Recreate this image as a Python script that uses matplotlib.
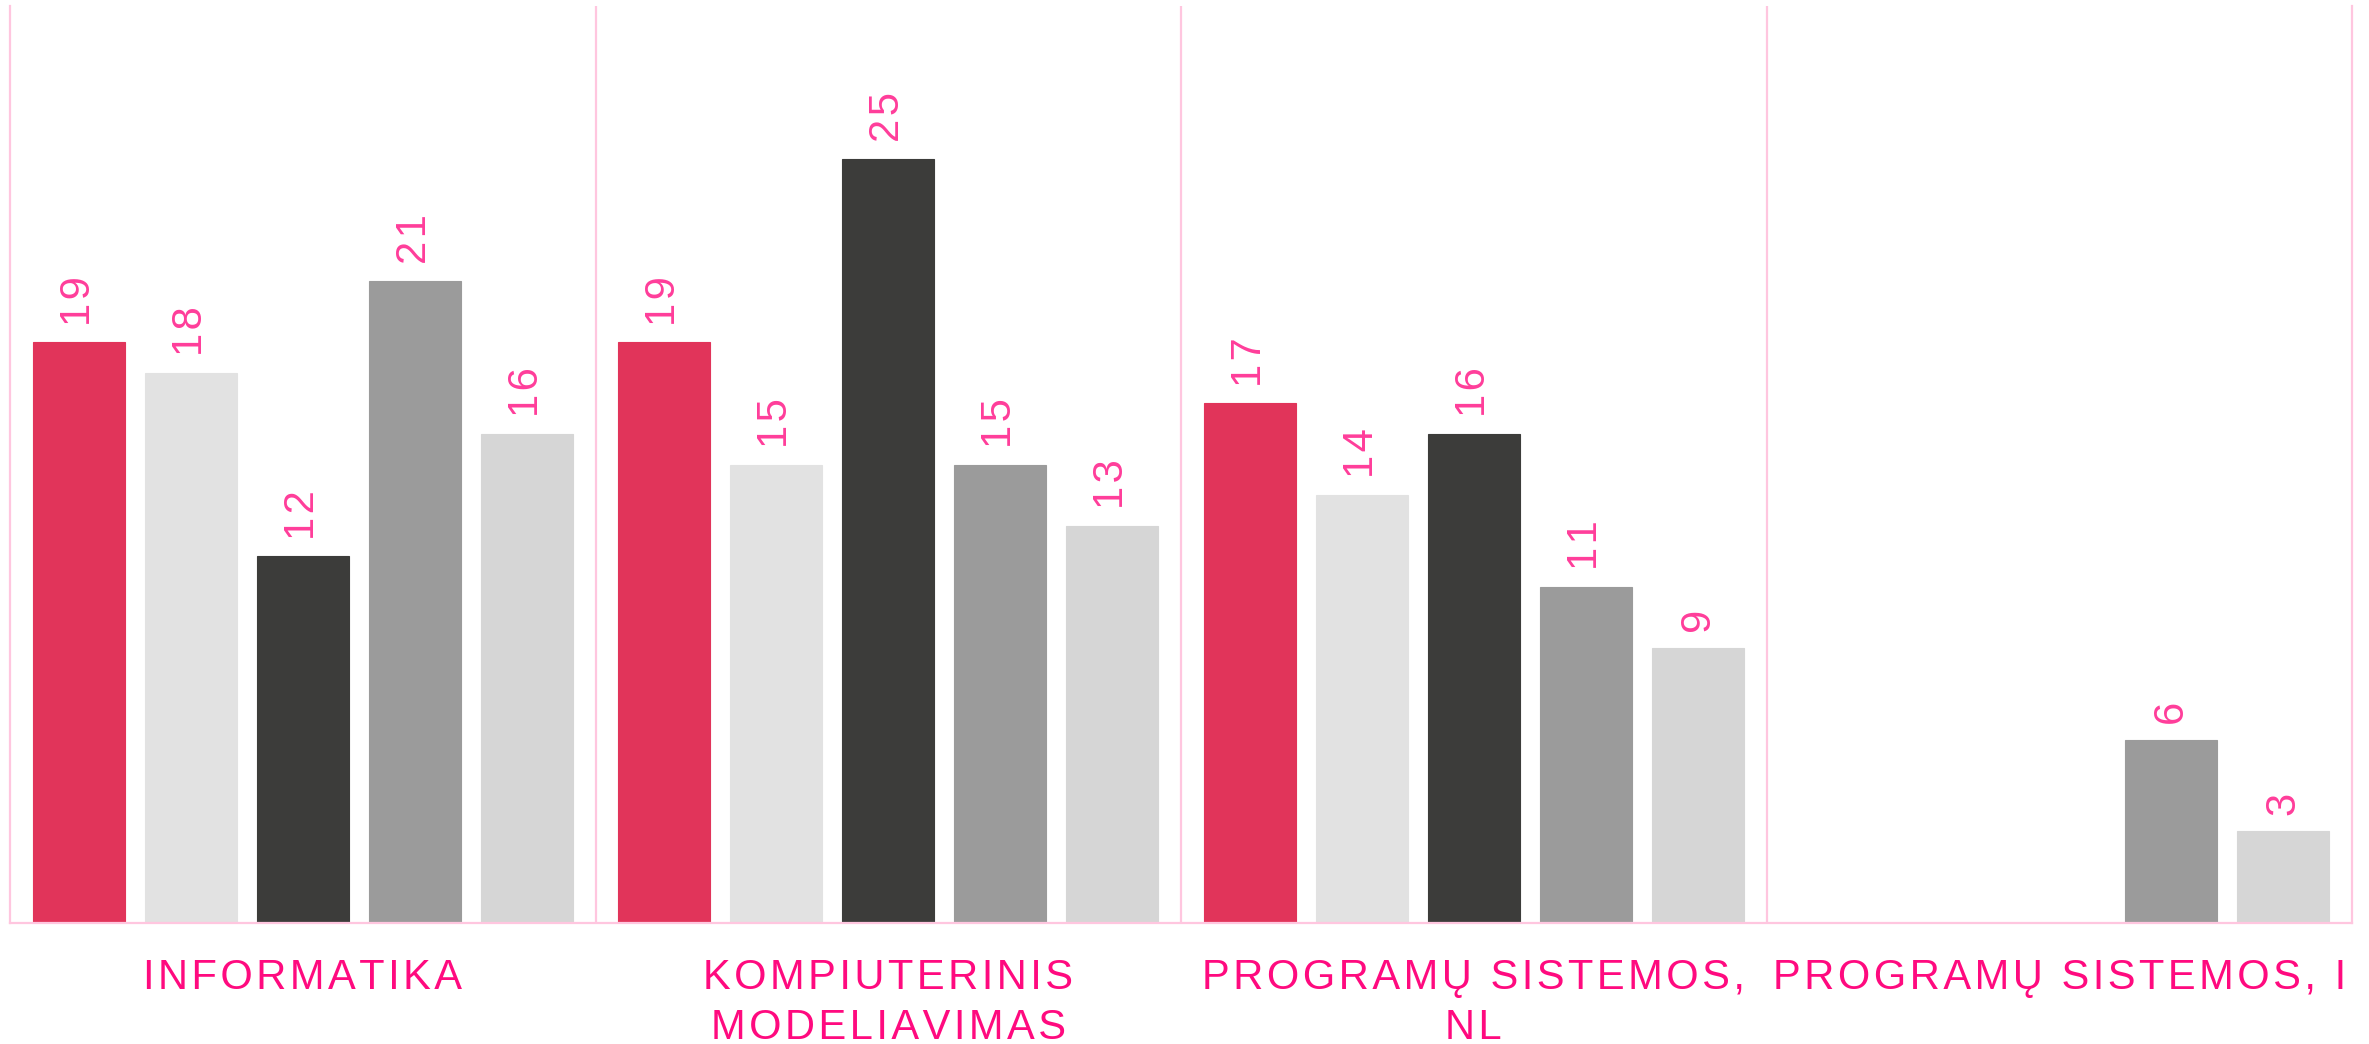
"""Grouped bar chart: students per study programme, five series per group."""

import matplotlib

matplotlib.use("Agg")
import matplotlib.pyplot as plt
import numpy as np

plt.rcParams["font.family"] = ["Liberation Sans", "DejaVu Sans"]

CATEGORIES = [
    "INFORMATIKA",
    "KOMPIUTERINIS\nMODELIAVIMAS",
    "PROGRAMŲ SISTEMOS,\nNL",
    "PROGRAMŲ SISTEMOS, I",
]
SERIES_1 = [19, 19, 17, np.nan]
SERIES_2 = [18, 15, 14, np.nan]
SERIES_3 = [12, 25, 16, np.nan]
SERIES_4 = [21, 15, 11, 6]
SERIES_5 = [16, 13, 9, 3]

SERIES = [SERIES_1, SERIES_2, SERIES_3, SERIES_4, SERIES_5]
COLORS = ["#e1345a", "#e2e2e2", "#3c3c3a", "#9b9b9b", "#d6d6d6"]
LINE_PINK = "#ffc6df"
LABEL_PINK = "#ff3d9a"
CAT_PINK = "#ff0a7f"

W, H, DPI = 2369, 1044, 100
HAIR = "\u200a"


def spaced(text):
    # fake letter spacing with hair spaces between characters
    return "\n".join(HAIR.join(line) for line in text.split("\n"))


fig = plt.figure(figsize=(W / DPI, H / DPI), dpi=DPI)
ax = fig.add_axes([10 / W, 1 - 923 / H, (2352 - 10) / W, (923 - 6) / H])

n_groups = len(CATEGORIES)
pitch = 0.1912
bar_w = 0.1576
offsets = 0.5 + (np.arange(len(SERIES)) - 2) * pitch
base = np.arange(n_groups)

for k, (vals, col) in enumerate(zip(SERIES, COLORS)):
    xs = base + offsets[k]
    ax.bar(xs, vals, width=bar_w, color=col, edgecolor=col, linewidth=0.8, zorder=2)
    for x, v in zip(xs, vals):
        if np.isnan(v):
            continue
        ax.annotate(
            spaced(f"{int(v)}"),
            (x, v),
            xytext=(0, 12),
            textcoords="offset points",
            rotation=90,
            ha="center",
            va="bottom",
            fontsize=30,
            color=LABEL_PINK,
        )

ax.set_xlim(0, n_groups)
ax.set_ylim(0, 30)

# group dividers
for b in range(1, n_groups):
    ax.axvline(b, color=LINE_PINK, linewidth=1.6, zorder=1)

for side in ("left", "right", "bottom"):
    ax.spines[side].set_color(LINE_PINK)
    ax.spines[side].set_linewidth(1.6)
ax.spines["top"].set_visible(False)

ax.set_yticks([])
ax.set_xticks(base + 0.5)
ax.set_xticklabels([spaced(c) for c in CATEGORIES], fontsize=30, color=CAT_PINK,
                   linespacing=1.32)
ax.tick_params(axis="x", length=0, pad=25)

fig.savefig("out.png", dpi=DPI)
